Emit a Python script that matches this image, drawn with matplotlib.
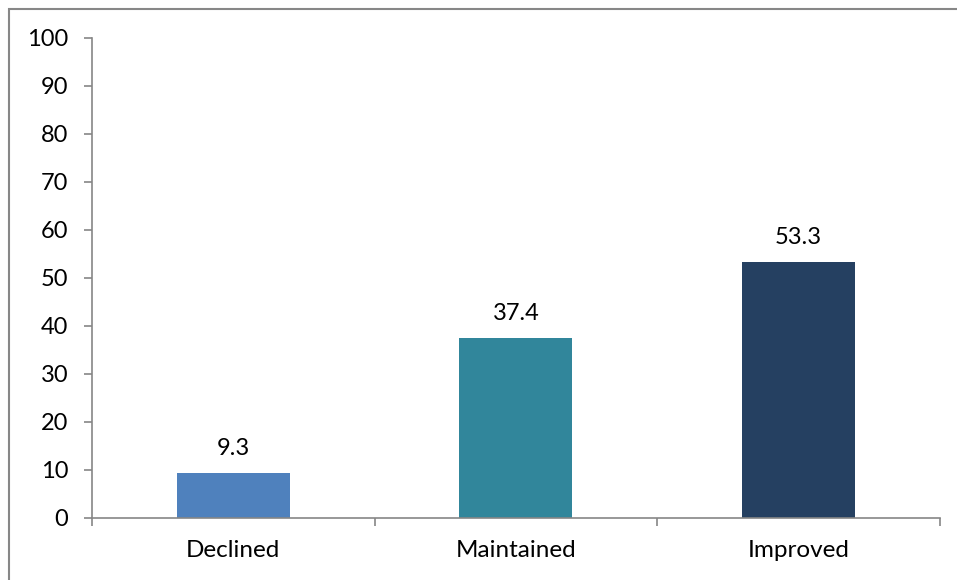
import matplotlib.pyplot as plt
from matplotlib.patches import Rectangle

categories = ['Declined', 'Maintained', 'Improved']
values = [9.3, 37.4, 53.3]
colors = ['#4F81BD', '#31869B', '#254061']
yticks = [0, 10, 20, 30, 40, 50, 60, 70, 80, 90, 100]

plt.rcParams['font.family'] = ['Lato', 'DejaVu Sans']

fig = plt.figure(figsize=(9.57, 5.80), dpi=100)
ax = fig.add_axes([0.0961, 0.1069, 0.8861, 0.8276])

# outer chart frame (only left and top visible in the crop)
fig.patches.append(Rectangle((9 / 957, -0.1), 1.2, 1 - 9 / 580 + 0.1,
                             transform=fig.transFigure, fill=False,
                             edgecolor='#878787', linewidth=1.5))

x = list(range(len(categories)))
ax.bar(x, values, width=0.40, color=colors)
for xi, v in zip(x, values):
    ax.text(xi, v + 3, f'{v}', ha='center', va='bottom', fontsize=17)

ax.set_xlim(-0.5, 2.5)
ax.set_ylim(0, 100)
ax.set_yticks(yticks)
ax.set_xticks(x)
ax.set_xticklabels(categories)
ax.set_xticks([-0.5, 0.5, 1.5, 2.5], minor=True)
ax.tick_params(axis='x', which='major', length=0, pad=16, labelsize=17.5)
ax.tick_params(axis='x', which='minor', length=6, color='#868686', width=1.2)
ax.tick_params(axis='y', length=6, color='#868686', width=1.2, labelsize=17, pad=11)

for s in ['top', 'right']:
    ax.spines[s].set_visible(False)
for s in ['left', 'bottom']:
    ax.spines[s].set_color('#868686')
    ax.spines[s].set_linewidth(1.2)

fig.savefig('out.png', dpi=100)
